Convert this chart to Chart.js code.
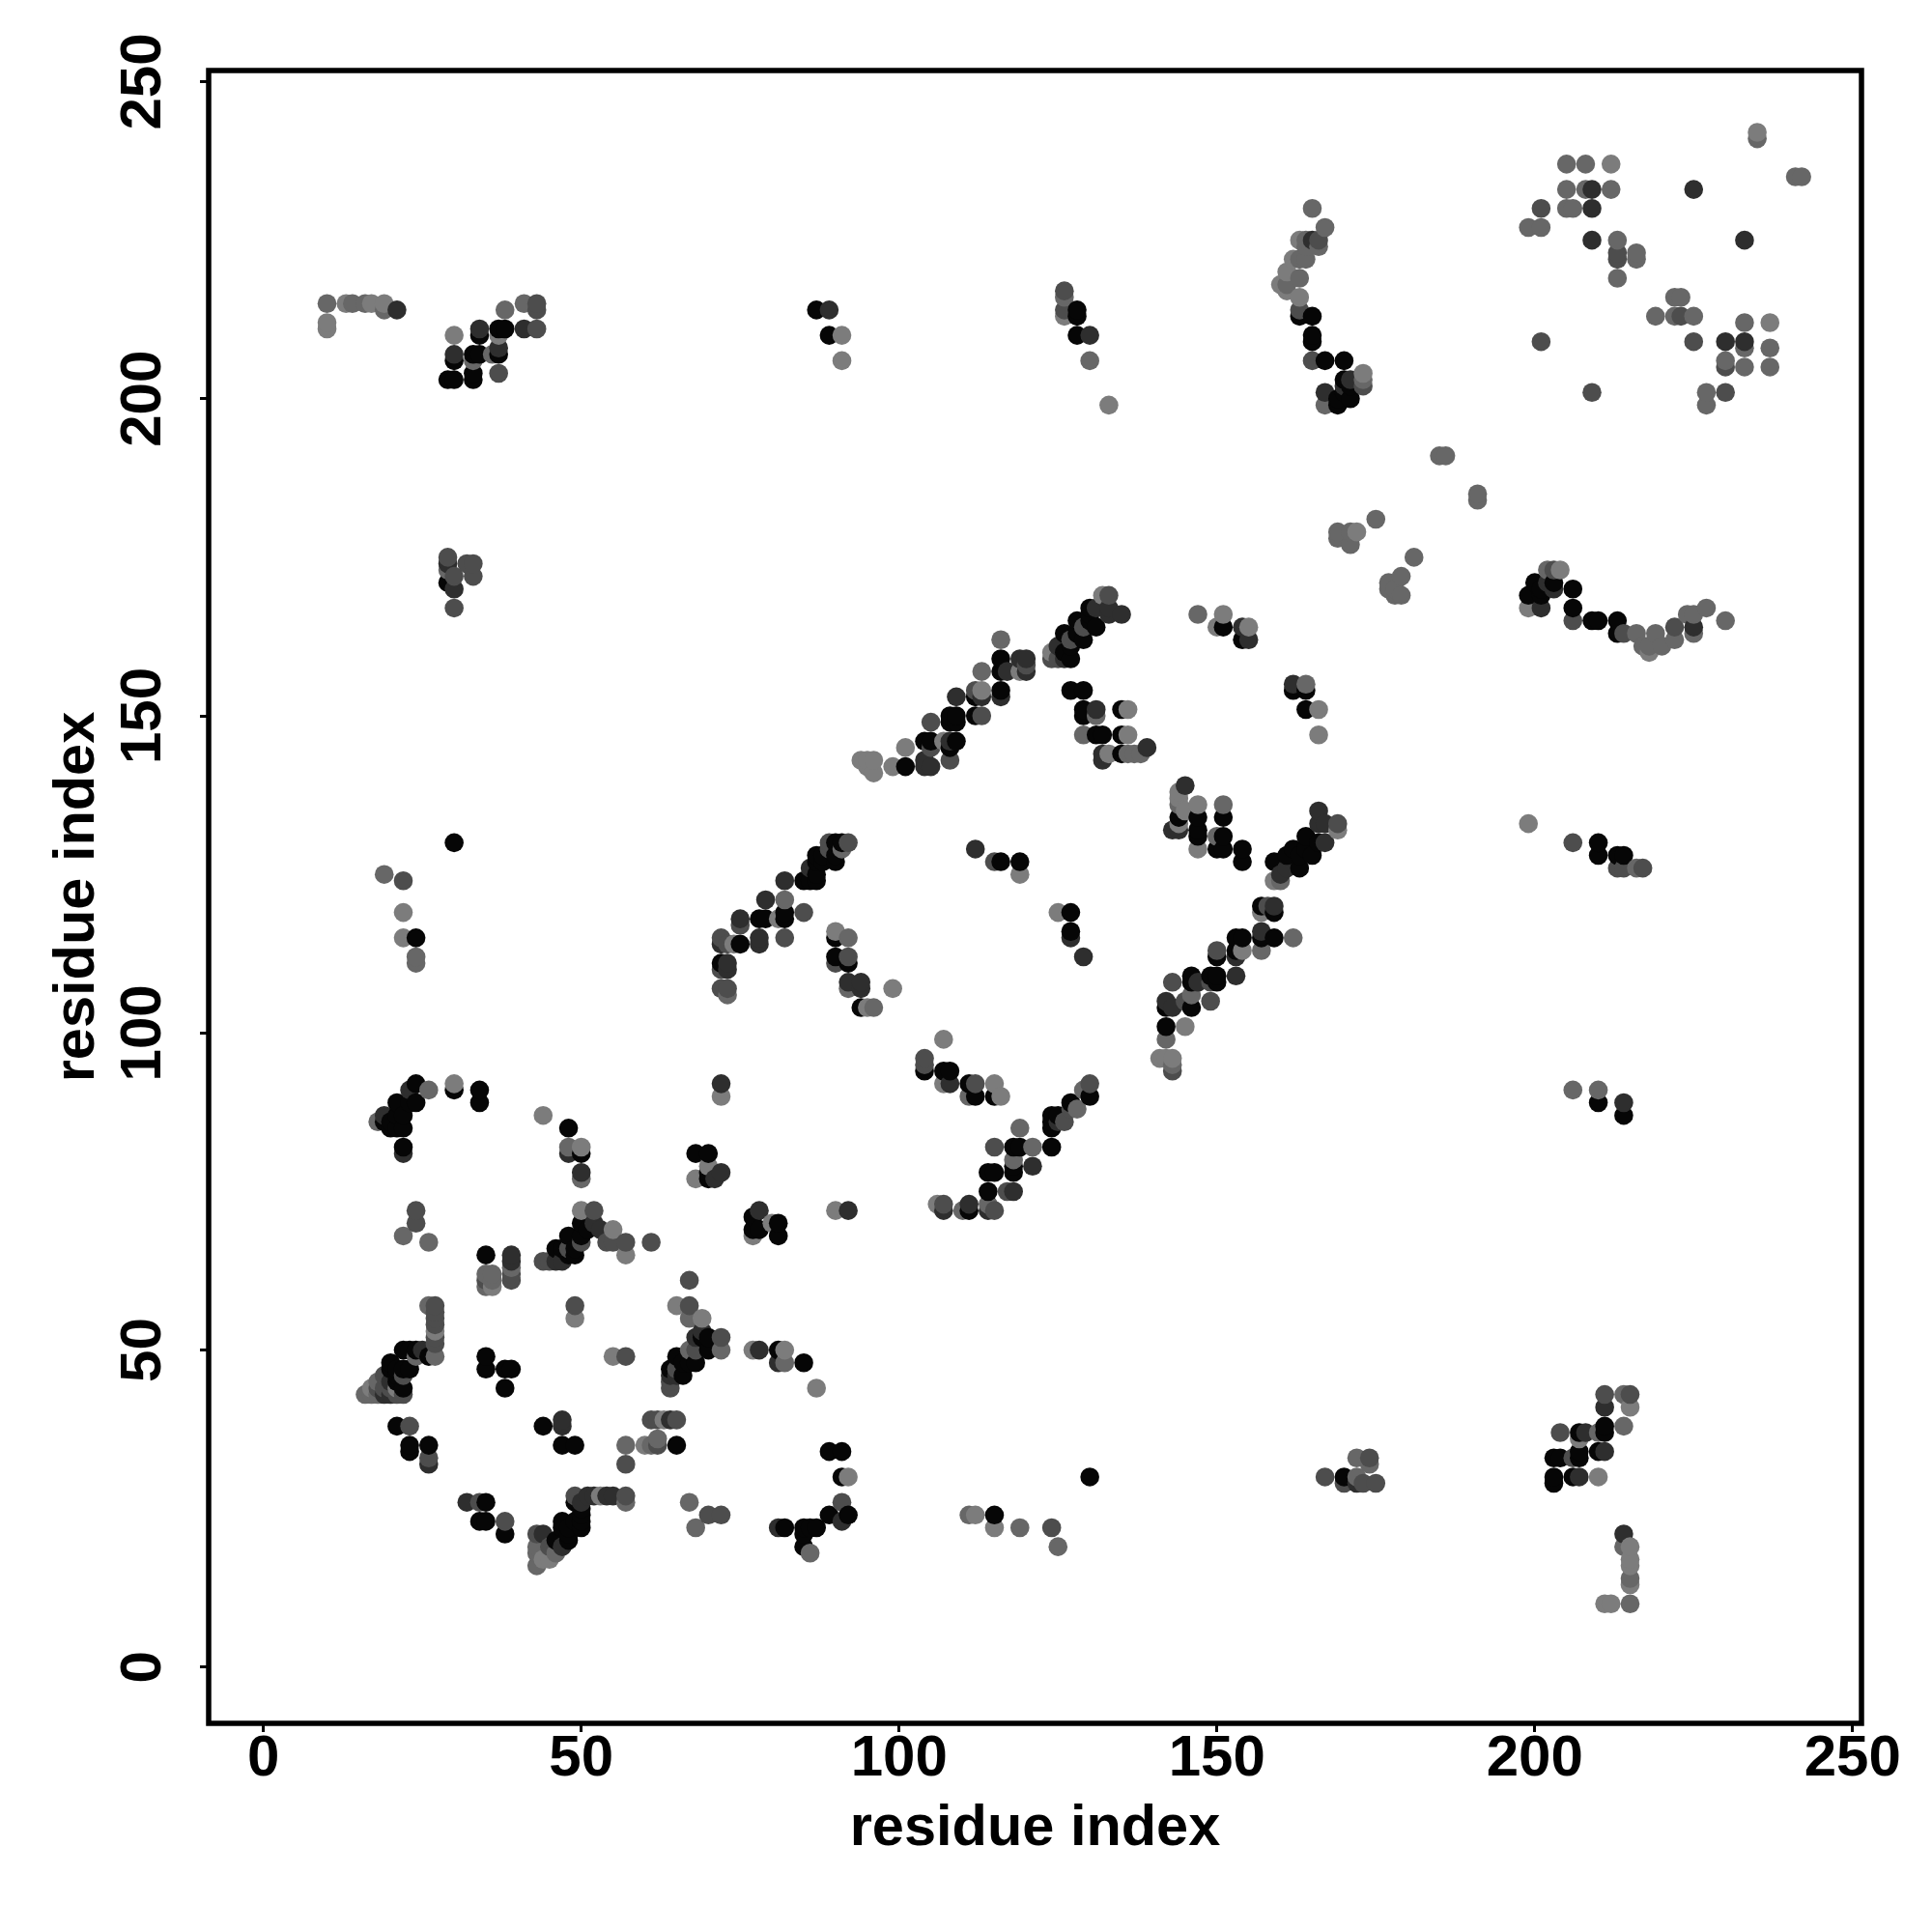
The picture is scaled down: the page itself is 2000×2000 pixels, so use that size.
<!DOCTYPE html>
<html>
<head>
<meta charset="utf-8">
<title>residue contacts</title>
<script src="https://cdn.jsdelivr.net/npm/chart.js@4"></script>
<style>
  html, body { margin: 0; padding: 0; background: #fff; }
  canvas { display: block; }
</style>
</head>
<body>
<canvas id="chart" width="2000" height="2000"></canvas>
<script>
// [residue x, residue y], one list per grey level
const contactsBlack = [
  [24,92],[24,89],[21,89],[23,89],[19,86],[20,85],[20,86],[21,87],[22,87],[22,85],[21,85],[22,82],[30,91],[34,91],[34,89],[48,85],[50,81],[68,81],[70,81],[70,77],[70,78],[35,65],
  [22,50],[23,50],[24,50],[26,49],[23,47],[20,48],[20,47],[21,46],[21,47],[22,44],[21,45],[22,47],[35,49],[35,47],[38,47],[39,47],[38,44],
  [70,52],[69,52],[70,50],[68,48],[65,49],[66,48],[66,46],[67,48],[64,47],[21,38],[23,35],[23,34],[26,35],[44,38],[47,35],[49,35],[65,35],
  [35,26],[34,23],[35,23],[38,21],[49,26],[50,25],[50,24],[50,23],[50,22],[49,23],[47,23],[47,22],[48,22],[48,20],[48,21],[46,20],
  [50,70],[51,69],[48,68],[50,68],[49,66],[49,65],[48,65],[47,66],[46,66],[77,71],[77,69],[78,69],[81,70],[81,68],
  [104,94],[107,94],[108,94],[111,92],[112,90],[115,90],[118,82],[119,82],[124,82],[118,79],[118,78],[114,78],[115,78],[114,75],[111,72],
  [124,86],[124,85],[127,89],[130,90],[124,87],[125,87],[89,34],[91,34],[91,30],[89,24],[92,24],[82,22],[85,22],[87,22],[85,21],[85,19],[86,22],[81,50],[85,48],[115,24],[130,30],
  [130,167],[128,165],[130,166],[130,165],[129,162],[128,163],[126,163],[127,161],[127,159],[126,160],[131,164],[116,159],[116,157],[116,154],[112,153],
  [108,150],[109,150],[108,149],[112,150],[109,149],[104,146],[105,146],[109,146],[108,145],[101,142],
  [91,130],[90,130],[90,128],[90,127],[87,128],[88,128],[88,127],[87,127],[87,124],[87,125],[86,124],[85,124],[82,119],[82,118],[78,118],[79,118],[75,114],[72,111],
  [90,115],[90,112],[92,111],[94,104],[116,127],[119,127],[127,119],[127,116],[127,154],[129,154],[129,151],[129,150],[131,147],[132,147],[135,151],[135,147],[135,144],
  [151,164],[154,162],[162,154],[164,154],[164,151],[144,134],[147,134],[151,134],[147,132],[147,131],[151,131],[150,129],[151,129],[154,129],[154,127],
  [164,131],[166,130],[164,129],[165,128],[162,129],[163,128],[163,126],[161,128],[159,127],[157,120],[159,119],[157,115],[159,115],[153,115],[154,115],[153,113],[150,112],
  [146,109],[146,108],[149,109],[150,109],[150,108],[142,104],[146,104],[142,101],
  [34,210],[37,211],[38,211],[30,206],[33,207],[34,207],[37,207],[29,203],[30,203],[33,204],[33,203],[29,171],
  [163,213],[165,213],[165,210],[165,209],[167,206],[170,206],[170,203],[171,200],[170,201],[169,200],[169,199],[171,202],
  [200,171],[203,171],[199,169],[201,170],[201,169],[206,170],[206,167],[209,165],[210,165],[213,165],[213,163],
  [211,38],[211,37],[207,37],[203,33],[204,33],[207,34],[207,33],[210,34],[203,30],[203,29],[206,30],
  [24,115],[30,130],[210,130],[210,128],[213,128],[214,128],[210,89],[214,87],[170,30],[87,214],[89,210],[128,214],[128,213],[128,210]
];
const contactsDark = [
  [23,91],[19,87],[22,81],[48,81],[50,78],[72,92],[71,77],[72,78],[39,64],[39,65],[19,43],[20,45],[20,43],[69,53],[68,52],[64,46],[65,46],[25,50],[26,32],[47,39],[47,38],[32,26],[64,39],
  [50,26],[51,27],[52,27],[54,27],[55,27],[44,21],[47,64],[46,64],[47,19],[52,70],[53,69],[78,72],[92,72],[108,92],[121,79],[118,75],[107,72],[111,73],[114,72],[125,86],[91,23],[81,22],[81,48],[78,50],
  [135,166],[133,166],[133,167],[131,167],[125,161],[126,159],[119,159],[120,159],[120,157],[117,157],[116,153],[109,153],[113,153],[108,146],[104,142],[105,142],[104,143],
  [86,126],[82,124],[79,121],[75,118],[78,115],[78,114],[72,114],[73,111],[73,110],[92,108],[94,108],[94,107],[112,129],[127,115],[129,112],[131,151],[132,144],[132,143],[139,145],
  [154,164],[155,162],[162,155],[145,139],[143,132],[144,132],[153,112],[153,109],[147,108],[142,105],[143,104],[157,116],[159,120],[166,135],[167,133],[166,133],[167,130],[161,126],[160,125],
  [225,233],[209,230],[209,225],[233,225],[230,209],[233,209],[209,233],[21,214],[34,211],[41,211],[30,207],[37,208],[29,174],[30,170],[165,225],[171,203],[167,201],[170,202],
  [202,171],[203,170],[201,167],[225,164],[211,41],[208,37],[211,34],[207,30],[214,21],[89,214],[214,89],[130,210],[172,29]
];
const contactsMid = [
  [39,62],[39,61],[24,72],[24,70],[27,57],[27,56],[27,55],[27,54],[27,52],[27,51],[35,61],[49,57],[57,49],[67,61],[67,57],[72,52],[68,50],[65,47],[64,45],[64,44],[23,38],[57,32],[61,39],[62,39],[62,35],
  [65,39],[26,33],[34,26],[38,23],[49,27],[57,27],[70,24],[72,24],[43,21],[45,19],[52,72],[54,67],[55,67],[57,67],[61,67],[50,67],[48,66],[45,64],[44,64],[18,44],[19,44],[19,46],[20,44],[22,43],[21,43],[22,46],
  [104,96],[104,95],[107,73],[112,92],[115,82],[117,75],[115,72],[126,86],[127,88],[130,92],[91,26],[124,22],
  [133,169],[129,164],[127,162],[124,159],[125,159],[120,158],[112,154],[113,150],[105,145],[108,143],[105,149],[92,130],[89,130],[89,129],[85,119],[75,117],[82,115],[73,114],[72,115],[72,110],[72,107],[73,107],[90,111],[92,112],[115,127],
  [169,133],[158,120],[150,113],[143,108],[145,105],[149,108],[149,105],[143,94],
  [201,230],[213,223],[213,222],[223,213],[201,209],[225,209],[230,205],[209,201],[230,201],[43,215],[43,214],[43,211],[37,204],[29,175],[30,172],[30,167],[32,174],[33,174],[33,172],
  [166,225],[163,214],[165,206],[173,202],[203,173],[206,165],[214,163],[222,164],[211,43],[215,43],[204,37],[206,33],
  [22,124],[206,130],[213,126],[214,126],[217,126],[167,30],[170,29],[174,33],[173,29],[175,29],[126,214],[126,217]
];
const contactsGray = [
  [26,91],[18,86],[48,82],[50,77],[22,68],[26,67],[39,63],[35,62],[35,60],[36,62],[36,61],[27,49],[24,49],[26,57],[16,43],[17,43],[18,45],[18,43],[67,55],[72,50],[67,50],[57,35],[61,35],[62,36],[67,26],[68,22],[57,26],[43,19],[43,18],[43,16],[46,18],
  [119,85],[121,82],[118,80],[110,72],[111,90],[129,91],[128,88],[119,22],[125,19],[111,24],[86,18],[82,48],[114,73],
  [116,162],[113,157],[82,121],[92,107],[96,104],[131,150],[129,147],[136,144],[137,144],[138,144],[92,115],[73,106],[91,129],
  [147,166],[164,155],[144,136],[151,136],[150,131],[162,115],[157,113],[146,106],[142,99],[143,95],[160,124],
  [205,237],[208,237],[205,233],[208,233],[212,233],[241,235],[242,235],[205,230],[206,230],[199,227],[201,227],[213,225],[216,223],[216,222],[213,219],[222,216],[223,216],[219,213],[222,213],[225,213],[233,212],[233,208],[237,208],[230,206],[233,205],[237,205],[227,201],[227,199],[235,241],
  [10,215],[14,215],[16,215],[19,214],[38,214],[41,215],[33,206],[36,207],[29,173],
  [165,230],[167,227],[164,225],[166,224],[164,224],[163,222],[164,222],[163,219],[161,218],[173,203],[167,199],
  [202,173],[216,163],[217,161],[218,161],[219,163],[220,161],[222,162],[225,163],[224,166],[225,166],[227,167],[230,165],
  [214,43],[210,37],[214,38],[214,19],[215,14],[215,10],
  [19,125],[24,112],[24,111],[216,126],[206,91],[210,91],[172,33],[174,32],[172,30],[185,191],[186,191],[191,185],[191,184],[169,179],[169,178],[171,179],[171,177],[175,181],[181,175],[177,171],[179,172],[178,170],[178,169],[179,169],[177,170],[126,216],[130,206]
];
const contactsLight = [
  [30,92],[44,87],[50,82],[72,90],[70,79],[68,77],[36,60],[27,53],[49,55],[55,49],[65,57],[69,55],[77,50],[17,44],[21,44],[60,35],[63,39],[53,27],[57,65],[55,69],[50,72],[45,17],[44,17],
  [90,72],[77,68],[107,99],[107,92],[115,92],[116,90],[106,73],[82,50],[87,44],[92,30],[112,24],[115,22],[80,70],
  [132,169],[124,160],[119,157],[113,154],[107,146],[101,145],[99,142],[94,143],[95,143],[96,143],[96,141],[95,142],[81,118],[74,114],[90,116],[99,107],[95,104],[119,125],[125,119],[136,151],[136,147],[133,144],
  [151,166],[150,164],[155,164],[166,151],[166,147],[144,138],[144,137],[145,135],[147,136],[144,133],[147,129],[169,132],[159,124],[157,119],[154,113],[145,101],[141,96],[142,96],[143,96],
  [212,237],[237,212],[235,242],[13,215],[17,215],[19,215],[10,212],[10,211],[30,210],[37,210],
  [163,225],[162,222],[161,220],[160,218],[161,217],[163,216],[173,204],[204,173],[199,167],[218,160],
  [215,41],[210,30],[207,36],[215,19],[215,17],[215,16],[215,13],[211,10],[212,10],
  [22,119],[22,115],[199,133],[91,210],[91,206],[126,213],[133,199],[172,179]
];
const tickValues = [0, 50, 100, 150, 200, 250];
const axisTitle = "residue index";

// the original plots in residue order, later points sit on top
const contacts = [
  ...contactsBlack.map(([x, y]) => ({ x, y, color: "#060606" })),
  ...contactsDark.map(([x, y]) => ({ x, y, color: "#2e2e2e" })),
  ...contactsMid.map(([x, y]) => ({ x, y, color: "#4d4d4d" })),
  ...contactsGray.map(([x, y]) => ({ x, y, color: "#676767" })),
  ...contactsLight.map(([x, y]) => ({ x, y, color: "#7c7c7c" })),
].sort((a, b) => a.x - b.x || a.y - b.y);

const fontFamily = '"Liberation Sans", Arial, sans-serif';
const useTickValues = (axis) => {
  axis.ticks = tickValues.map((value) => ({ value }));
};

const framePlugin = {
  id: "frame",
  beforeDraw(chart) {
    // rotated y labels should be centred on their tick
    chart.scales.y.getLabelItems().forEach((item) => {
      item.options.textAlign = "center";
    });
  },
  afterDatasetsDraw(chart) {
    const { ctx, chartArea } = chart;
    ctx.save();
    ctx.strokeStyle = "#000";
    ctx.lineWidth = 5.5;
    ctx.strokeRect(chartArea.left, chartArea.top, chartArea.width, chartArea.height);
    ctx.restore();
  },
};

new Chart(document.getElementById("chart"), {
  type: "scatter",
  data: {
    datasets: [{
      data: contacts,
      pointBackgroundColor: contacts.map((c) => c.color),
      pointBorderWidth: 0,
      pointRadius: 9.8,
    }],
  },
  options: {
    responsive: false,
    animation: false,
    layout: { padding: { top: 73, right: 73, left: 0, bottom: 0 } },
    plugins: { legend: { display: false }, tooltip: { enabled: false } },
    scales: {
      x: {
        type: "linear",
        min: -8.62,
        max: 251.4,
        afterBuildTicks: useTickValues,
        afterFit(scale) { scale.height = 216; scale.paddingRight = 0; scale.paddingLeft = 0; },
        grid: { drawOnChartArea: false, color: "#000", lineWidth: 3, tickLength: 9 },
        border: { display: false },
        ticks: {
          color: "#000",
          maxRotation: 0,
          autoSkip: false,
          padding: -8,
          font: { family: fontFamily, size: 60, weight: "bold" },
        },
        title: {
          display: true,
          text: axisTitle,
          color: "#000",
          padding: { top: 0, bottom: 71 },
          font: { family: fontFamily, size: 59.5, weight: "bold" },
        },
      },
      y: {
        type: "linear",
        min: -8.85,
        max: 251.75,
        afterBuildTicks: useTickValues,
        afterFit(scale) { scale.width = 216; scale.paddingTop = 0; scale.paddingBottom = 0; },
        grid: { drawOnChartArea: false, color: "#000", lineWidth: 3, tickLength: 9 },
        border: { display: false },
        ticks: {
          color: "#000",
          minRotation: 90,
          maxRotation: 90,
          autoSkip: false,
          padding: 58,
          font: { family: fontFamily, size: 60, weight: "bold" },
        },
        title: {
          display: true,
          text: axisTitle,
          color: "#000",
          padding: { top: 45, bottom: 0 },
          font: { family: fontFamily, size: 59.5, weight: "bold" },
        },
      },
    },
  },
  plugins: [framePlugin],
});
</script>
</body>
</html>
